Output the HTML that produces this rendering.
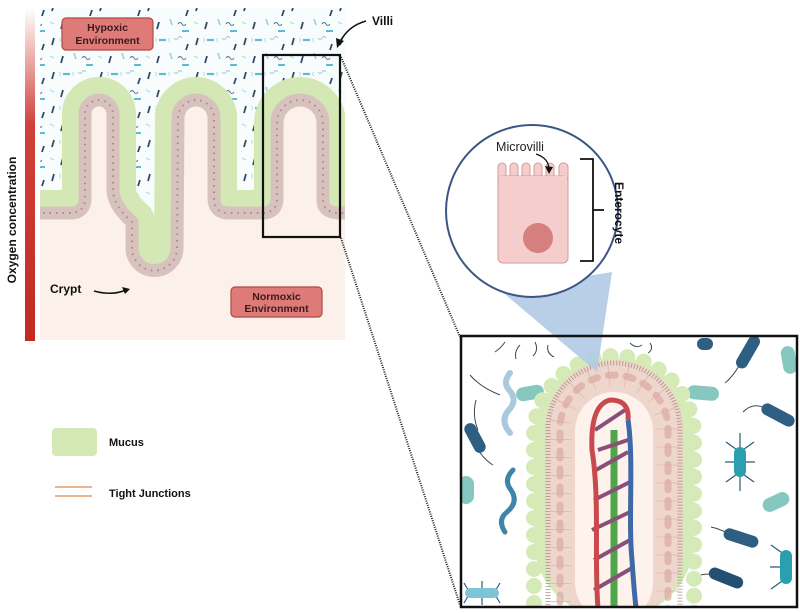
<!DOCTYPE html>
<html><head><meta charset="utf-8"><style>
html,body{margin:0;padding:0;background:#fff;}
svg{display:block;font-family:"Liberation Sans",sans-serif;}
</style></head><body>
<svg width="800" height="613" viewBox="0 0 800 613" xmlns="http://www.w3.org/2000/svg">
<defs>
<linearGradient id="o2" x1="0" y1="0" x2="0" y2="1">
<stop offset="0" stop-color="#ffffff"/><stop offset="0.35" stop-color="#d0413a"/><stop offset="1" stop-color="#c22a24"/>
</linearGradient>
<pattern id="bac" width="48" height="34" patternUnits="userSpaceOnUse">
<rect width="48" height="34" fill="#f8fcfd"/>
<line x1="4" y1="11" x2="6" y2="4" stroke="#2d4f66" stroke-width="1.8"/>
<line x1="15" y1="6" x2="22" y2="6" stroke="#5bbcd0" stroke-width="2.2"/>
<path d="M13 6 l-2 -2 M13 6 l-2 2 M24 6 l2 -2 M24 6 l2 2" stroke="#a8dbe6" stroke-width="0.8"/>
<path d="M30 4 q2 3 4 0 q2 -3 4 0" stroke="#9cc8d4" stroke-width="1" fill="none"/>
<line x1="13" y1="29" x2="15" y2="22" stroke="#2d4f66" stroke-width="1.8"/>
<line x1="26" y1="19" x2="28" y2="25" stroke="#9ed4da" stroke-width="1.8"/>
<path d="M34 24 q2 -3 4 0 q2 3 4 0" stroke="#4a7488" stroke-width="1" fill="none"/>
<line x1="42" y1="16" x2="44" y2="10" stroke="#2d4f66" stroke-width="1.8"/>
<line x1="2" y1="22" x2="6" y2="24" stroke="#b8e0e8" stroke-width="1.5"/>
<line x1="38" y1="31" x2="45" y2="31" stroke="#5bbcd0" stroke-width="2"/>
</pattern>
<clipPath id="lp"><rect x="40" y="8" width="305" height="332"/></clipPath>
<clipPath id="rp"><rect x="461" y="336" width="336" height="271"/></clipPath>
</defs>

<rect x="25" y="8" width="10" height="333" fill="url(#o2)"/>
<text transform="translate(16,220) rotate(-90)" text-anchor="middle" font-size="12" font-weight="bold" fill="#111">Oxygen concentration</text>

<g clip-path="url(#lp)">
<rect x="40" y="8" width="305" height="332" fill="url(#bac)"/>
<path d="M30,213 L70,213 Q85,213 85,198 L85,114 A14,14 0 0 1 113,114 L113,190 Q113,205 132,222 L132,248 A22.5,22.5 0 0 0 177,248 L178,118 A18,18 0 0 1 214,118 L214,198 Q214,213 229,213 L262,213 Q277,213 277,198 L277,123 A23,23 0 0 1 323,123 L323,200 Q323,213 340,213 L360,213 L360,360 L30,360 Z" fill="#d3e8b4" stroke="#d3e8b4" stroke-width="46" stroke-linejoin="round"/>
<path d="M30,213 L70,213 Q85,213 85,198 L85,114 A14,14 0 0 1 113,114 L113,190 Q113,205 132,222 L132,248 A22.5,22.5 0 0 0 177,248 L178,118 A18,18 0 0 1 214,118 L214,198 Q214,213 229,213 L262,213 Q277,213 277,198 L277,123 A23,23 0 0 1 323,123 L323,200 Q323,213 340,213 L360,213 L360,360 L30,360 Z" fill="#fcf1ea" stroke="#d8c2bd" stroke-width="13" stroke-linejoin="round"/>
<path d="M30,213 L70,213 Q85,213 85,198 L85,114 A14,14 0 0 1 113,114 L113,190 Q113,205 132,222 L132,248 A22.5,22.5 0 0 0 177,248 L178,118 A18,18 0 0 1 214,118 L214,198 Q214,213 229,213 L262,213 Q277,213 277,198 L277,123 A23,23 0 0 1 323,123 L323,200 Q323,213 340,213 L360,213" fill="none" stroke="#a88a8c" stroke-width="2" stroke-dasharray="1.5 5"/>
</g>
<rect x="62" y="18" width="91" height="32" rx="4" fill="#de7b78" stroke="#b34744" stroke-width="1.2"/>
<text x="107.5" y="31" text-anchor="middle" font-size="10.5" font-weight="bold" fill="#3a1a1a">Hypoxic</text>
<text x="107.5" y="44" text-anchor="middle" font-size="10.5" font-weight="bold" fill="#3a1a1a">Environment</text>
<rect x="231" y="287" width="91" height="30" rx="4" fill="#de7b78" stroke="#b34744" stroke-width="1.2"/>
<text x="276.5" y="300" text-anchor="middle" font-size="10.5" font-weight="bold" fill="#3a1a1a">Normoxic</text>
<text x="276.5" y="312" text-anchor="middle" font-size="10.5" font-weight="bold" fill="#3a1a1a">Environment</text>
<text x="50" y="293" font-size="12" font-weight="bold" fill="#111">Crypt</text>
<path d="M94,291 Q112,296 126,290" fill="none" stroke="#111" stroke-width="1.5"/>
<path d="M130,289 L122,287 L125,294 Z" fill="#111"/>
<rect x="263" y="55" width="77" height="182" fill="none" stroke="#111" stroke-width="2.2"/>
<text x="372" y="25" font-size="12" font-weight="bold" fill="#111">Villi</text>
<path d="M366,21 Q348,26 340,42" fill="none" stroke="#111" stroke-width="1.5"/>
<path d="M337,48 L336,38 L344,41 Z" fill="#111"/>
<line x1="341" y1="57" x2="460" y2="337" stroke="#222" stroke-width="2" stroke-dasharray="1 1.3"/>
<line x1="341" y1="238" x2="460" y2="605" stroke="#222" stroke-width="2" stroke-dasharray="1 1.3"/>

<rect x="52" y="428" width="45" height="28" rx="4" fill="#d4e9b6"/>
<text x="109" y="446" font-size="11" font-weight="bold" fill="#111">Mucus</text>
<line x1="55" y1="487" x2="92" y2="487" stroke="#e59b6a" stroke-width="1.6"/>
<line x1="55" y1="496" x2="92" y2="496" stroke="#e59b6a" stroke-width="1.6"/>
<text x="109" y="497" font-size="11" font-weight="bold" fill="#111">Tight Junctions</text>

<rect x="461" y="336" width="336" height="271" fill="#fff"/>
<g clip-path="url(#rp)">
<g stroke="#3a4a50" stroke-width="1" fill="none">
<path d="M478,430 q-6,-14 -2,-30"/><path d="M745,355 q-10,20 -20,28"/><path d="M735,537 q-14,-8 -24,-10"/><path d="M720,575 q-10,-2 -20,0"/><path d="M765,408 q-12,-6 -22,4"/>
<path d="M475,445 q8,14 18,20"/><path d="M500,395 q-20,-8 -30,-20"/>
<path d="M520,345 q-6,6 -4,14 M535,342 q4,8 -2,14 M548,345 q-2,8 6,12 M505,342 q-4,6 -10,10"/>
<path d="M630,343 q6,6 12,2 M650,343 q4,6 -2,10"/>
</g>
<g fill="#2e5f83">
<rect x="-16" y="-6" width="32" height="12" rx="6" transform="translate(475,438) rotate(62)"/>
<rect x="-18" y="-6" width="36" height="12" rx="6" transform="translate(748,352) rotate(-60)"/>
<rect x="-18" y="-6" width="36" height="12" rx="6" transform="translate(778,415) rotate(28)"/>
<rect x="-18" y="-6" width="36" height="12" rx="6" transform="translate(741,538) rotate(18)"/>
<rect x="-18" y="-6" width="36" height="12" rx="6" transform="translate(726,578) rotate(22)" fill="#244f70"/>
<rect x="-8" y="-6" width="16" height="12" rx="6" transform="translate(705,344)"/>
</g>
<g stroke="#2c5a74" stroke-width="1.2">
<path d="M740,452 l-14,-10 M740,462 l-15,0 M740,472 l-14,10 M740,452 l14,-10 M740,462 l15,0 M740,472 l14,10 M740,447 l0,-14 M740,477 l0,14"/>
<path d="M785,555 l-14,-10 M785,567 l-15,0 M785,579 l-14,10"/>
<path d="M470,593 l-6,-10 M482,593 l0,-12 M494,593 l6,-10 M470,593 l-6,10 M482,593 l0,12 M494,593 l6,10"/>
</g>
<rect x="734" y="447" width="12" height="30" rx="6" fill="#2a9fb0"/>
<rect x="780" y="550" width="12" height="34" rx="6" fill="#2a9fb0"/>
<rect x="465" y="588" width="34" height="10" rx="5" fill="#7cc4d6"/>
<g fill="#86c7c0">
<rect x="-16" y="-7" width="32" height="14" rx="7" transform="translate(703,393) rotate(5)"/>
<rect x="-14" y="-7" width="28" height="14" rx="7" transform="translate(776,502) rotate(-25)"/>
<rect x="-8" y="-14" width="16" height="28" rx="8" transform="translate(466,490)"/>
<rect x="-7" y="-14" width="14" height="28" rx="7" transform="translate(789,360) rotate(-10)"/>
<rect x="-14" y="-7" width="28" height="14" rx="7" transform="translate(530,393) rotate(-10)"/>
</g>
<path d="M510,373 q-8,10 0,18 q8,10 -2,20 q-8,10 2,22" fill="none" stroke="#a9c9dc" stroke-width="6" stroke-linecap="round"/>
<path d="M513,470 q-10,10 -2,20 q8,12 -4,22 q-10,8 -2,20" fill="none" stroke="#3c87a8" stroke-width="5" stroke-linecap="round"/>
<rect x="534" y="358" width="160" height="260" rx="78" fill="#d6eab8"/>
<path d="M534,620 L534,436 A80,80 0 0 1 694,436 L694,620" fill="none" stroke="#d6eab8" stroke-width="16" stroke-linecap="round" stroke-dasharray="0 17"/>
<rect x="545" y="360" width="138" height="260" rx="69" fill="#efd6cc"/>
<path d="M548,620 L548,429 A66,66 0 0 1 680,429 L680,620" fill="none" stroke="#a69288" stroke-width="5" stroke-dasharray="0.8 2.2"/>
<path d="M560,620 L560,429 A54,54 0 0 1 668,429 L668,620" fill="none" stroke="#dcb8ad" stroke-width="22" stroke-dasharray="1 17" opacity="0.8"/>
<path d="M560,620 L560,429 A54,54 0 0 1 668,429 L668,620" fill="none" stroke="#d9aaa2" stroke-width="7" stroke-dasharray="7 11" stroke-linecap="round" opacity="0.7"/>
<rect x="575" y="392" width="78" height="230" rx="39" fill="#fdf2ec"/>
<path d="M614,430 L614,608" stroke="#4fa54a" stroke-width="7"/>
<g fill="none" stroke-width="4">
<path d="M596,470 L628,452 M594,500 L630,482 M592,530 L630,512 M594,560 L630,540 M594,590 L632,568" stroke="#8a4e78"/>
<path d="M595,430 L625,410 M598,450 L628,440" stroke="#8a4e78"/>
</g>
<path d="M598,608 C594,560 600,500 592,450 Q590,405 610,400 Q630,400 628,420" fill="none" stroke="#c94a4c" stroke-width="5"/>
<path d="M628,420 C634,460 628,520 632,560 Q634,590 636,608" fill="none" stroke="#3f68a6" stroke-width="5"/>
</g>

<path d="M500,290 L597,372 L612,272 Z" fill="#b3cbe5" opacity="0.92"/>
<rect x="461" y="336" width="336" height="271" fill="none" stroke="#111" stroke-width="2.5"/>

<circle cx="532" cy="211" r="86" fill="#fff" stroke="#3c5684" stroke-width="2"/>
<g fill="#f5cdcd" stroke="#d59a9a" stroke-width="1">
<rect x="498" y="163" width="8" height="30" rx="4"/>
<rect x="510" y="163" width="8" height="30" rx="4"/>
<rect x="522" y="163" width="8" height="30" rx="4"/>
<rect x="534" y="163" width="8" height="30" rx="4"/>
<rect x="546" y="163" width="8" height="30" rx="4"/>
<rect x="559" y="163" width="9" height="30" rx="4"/>
<rect x="498" y="176" width="70" height="87" rx="5"/>
</g>
<rect x="499" y="176" width="68" height="20" fill="#f5cdcd"/>
<circle cx="538" cy="238" r="15" fill="#d57f7f"/>
<text x="520" y="151" text-anchor="middle" font-size="12.5" fill="#222">Microvilli</text>
<path d="M536,154 Q548,158 549,168" fill="none" stroke="#111" stroke-width="1.2"/>
<path d="M549,174 L545,166 L553,167 Z" fill="#111"/>
<path d="M580,159 L593,159 L593,261 L580,261 M593,210 L604,210" fill="none" stroke="#111" stroke-width="1.8"/>
<text transform="translate(615,213) rotate(90)" text-anchor="middle" font-size="12" font-weight="bold" fill="#111">Enterocyte</text>
</svg>
</body></html>
